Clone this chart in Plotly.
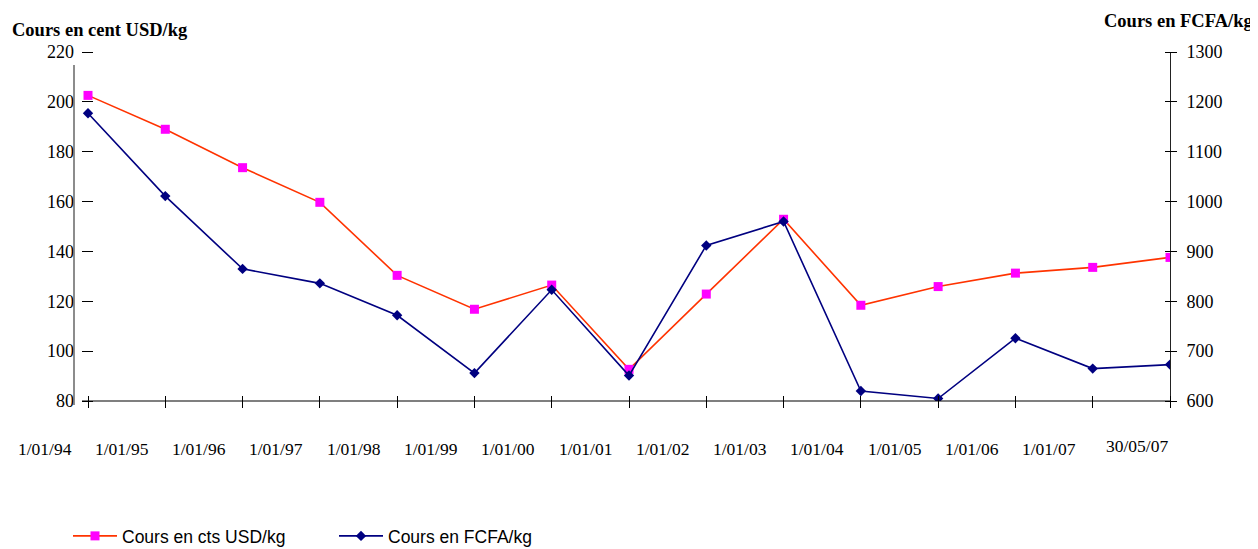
import plotly.graph_objects as go

# page offset of the plot div (browser default body margin)
OFF = 8
W, H = 1258 - OFF, 549 - OFF

dates = ["1/01/94", "1/01/95", "1/01/96", "1/01/97", "1/01/98", "1/01/99", "1/01/00",
         "1/01/01", "1/01/02", "1/01/03", "1/01/04", "1/01/05", "1/01/06", "1/01/07", "30/05/07"]
usd_cents = [202.6, 189.0, 173.6, 159.7, 130.4, 116.8, 126.5, 92.7, 122.9, 152.9,
             118.4, 125.9, 131.3, 133.6, 137.6]
fcfa = [1177, 1011, 865, 836, 772, 656, 823, 651, 912, 960, 620, 605, 726, 665, 673]

left_ticks = list(range(80, 221, 20))
right_ticks = list(range(600, 1301, 100))

x = list(range(len(dates)))


def px(v):
    return (v - OFF) / W


def py(v):
    return 1 - (v - OFF) / H


serif = "Liberation Serif"
sans = "Liberation Sans"

first_px, last_px = 88, 1170
unit = (last_px - first_px) / (len(dates) - 1)
left_ext = 0.62  # room on the left of the first category for its label
xr = [-left_ext, len(dates) - 1]
xdom = [px(first_px - left_ext * unit), px(last_px)]
ydom = [py(401), py(52)]

fig = go.Figure()
fig.add_trace(go.Scatter(
    x=x, y=usd_cents, name="Cours en cts USD/kg", mode="lines+markers",
    line=dict(color="#FF3300", width=1.6),
    marker=dict(symbol="square", size=9, color="#FF00FF", line=dict(width=0)),
    yaxis="y"))
fig.add_trace(go.Scatter(
    x=x, y=fcfa, name="Cours en FCFA/kg", mode="lines+markers",
    line=dict(color="#000080", width=1.6),
    marker=dict(symbol="diamond", size=8, color="#000080", line=dict(width=0)),
    yaxis="y2"))
# empty helper traces so that the tick-only overlay axes get drawn
fig.add_trace(go.Scatter(x=[None], y=[None], xaxis="x2", yaxis="y3",
                         showlegend=False, hoverinfo="skip"))
fig.add_trace(go.Scatter(x=[None], y=[None], xaxis="x2", yaxis="y4",
                         showlegend=False, hoverinfo="skip"))

axcommon = dict(showgrid=False, zeroline=False)

fig.update_layout(
    width=W, height=H,
    margin=dict(l=0, r=0, t=0, b=0, autoexpand=False),
    paper_bgcolor="white", plot_bgcolor="white",
    font=dict(family=serif, size=18, color="black"),
    xaxis=dict(domain=xdom, range=xr, anchor="y",
               showline=False, ticks="", showticklabels=False, **axcommon),
    xaxis2=dict(overlaying="x", anchor="free", position=py(395), side="bottom",
                range=xr, tickvals=x, ticks="outside", ticklen=12, tickwidth=1,
                tickcolor="black", showticklabels=False, showline=False, **axcommon),
    yaxis=dict(domain=ydom, range=[80, 220], anchor="free", position=px(74),
               tickvals=left_ticks, ticks="", showline=False,
               tickfont=dict(family=serif, size=18), ticklabelstandoff=0, **axcommon),
    yaxis3=dict(overlaying="y", anchor="free", position=px(93), side="left",
                range=[80, 220], tickvals=left_ticks, ticks="outside", ticklen=11,
                tickwidth=1, tickcolor="black", showticklabels=False, showline=False,
                **axcommon),
    yaxis2=dict(overlaying="y", anchor="free", position=px(1170), side="right",
                range=[600, 1300], tickvals=right_ticks, ticks="", showline=True,
                linecolor="#222", linewidth=1,
                tickfont=dict(family=serif, size=18), ticklabelstandoff=12, **axcommon),
    yaxis4=dict(overlaying="y", anchor="free", position=px(1164), side="right",
                range=[600, 1300], tickvals=right_ticks, ticks="outside", ticklen=12,
                tickwidth=1, tickcolor="black", showticklabels=False, showline=False,
                **axcommon),
    legend=dict(orientation="h", x=px(68), xanchor="left", y=py(536), yanchor="middle",
                font=dict(family=sans, size=17.5), bgcolor="rgba(0,0,0,0)",
                itemwidth=44, entrywidth=207, entrywidthmode="pixels",
                traceorder="normal"),
    showlegend=True,
)

# x axis line and left axis line (detached, as in the original)
fig.add_shape(type="line", xref="paper", yref="paper",
              x0=px(82), x1=px(1170), y0=py(401), y1=py(401),
              line=dict(color="black", width=1.2))
fig.add_shape(type="line", xref="paper", yref="paper",
              x0=px(74), x1=px(74), y0=py(65), y1=py(405),
              line=dict(color="#666666", width=1.5))

# axis titles
fig.add_annotation(text="<b>Cours en cent USD/kg</b>", xref="paper", yref="paper",
                   x=px(10), y=py(30), xanchor="left", yanchor="middle", showarrow=False,
                   font=dict(family=serif, size=18.5))
fig.add_annotation(text="<b>Cours en FCFA/kg</b>", xref="paper", yref="paper",
                   x=px(1255), y=py(21), xanchor="right", yanchor="middle", showarrow=False,
                   font=dict(family=serif, size=18.5))

# category labels (offset between tick marks, last one right-aligned)
label_shift = -43.5 / unit
for i, lab in enumerate(dates):
    last = i == len(dates) - 1
    fig.add_annotation(text=lab, xref="x", yref="paper",
                       x=x[i] if last else x[i] + label_shift,
                       y=py(446) if last else py(449),
                       xanchor="right" if last else "center", yanchor="middle",
                       showarrow=False, font=dict(family=serif, size=17.5))

fig.write_html("out.html")
